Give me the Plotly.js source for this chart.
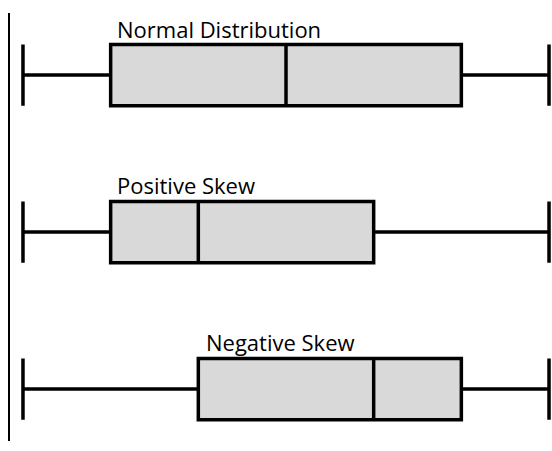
<!DOCTYPE html>
<html>
<head>
<meta charset="utf-8">
<script src="https://cdn.plot.ly/plotly-3.0.1.min.js"></script>
<style>
  body { margin: 0; background: #fff; }
  #plot { width: 552px; height: 451px; }
</style>
</head>
<body>
<div id="plot"></div>
<script>
// Box plot shapes, top to bottom
let names = ["Normal Distribution", "Positive Skew", "Negative Skew"];
let rows = [2, 1, 0];
let minVals = [0, 0, 0];
let q1Vals = [1, 1, 2];
let medianVals = [3, 2, 4];
let q3Vals = [5, 4, 5];
let maxVals = [6, 6, 6];
// where each label starts (x) and sits (y) in data units
let labelX = [1.05, 1.05, 2.06];
let labelY = [2.29, 1.30, 0.30];

let traces = names.map((name, i) => ({
    type: 'box',
    orientation: 'h',
    name: name,
    y: [rows[i]],
    lowerfence: [minVals[i]],
    q1: [q1Vals[i]],
    median: [medianVals[i]],
    q3: [q3Vals[i]],
    upperfence: [maxVals[i]],
    width: 0.39,
    whiskerwidth: 1,
    boxpoints: false,
    fillcolor: '#d9d9d9',
    line: { color: '#000000', width: 3.5 },
    hoverinfo: 'skip'
}));

let annotations = names.map((name, i) => ({
    text: name,
    x: labelX[i],
    y: labelY[i],
    xref: 'x',
    yref: 'y',
    xanchor: 'left',
    yanchor: 'middle',
    showarrow: false,
    font: { family: '"Open Sans", sans-serif', size: 22, color: '#000000' }
}));

let layout = {
    width: 552,
    height: 451,
    margin: { l: 10, r: 0, t: 13, b: 10 },
    paper_bgcolor: '#ffffff',
    plot_bgcolor: '#ffffff',
    showlegend: false,
    xaxis: {
        range: [-0.148, 6.034],
        visible: false,
        fixedrange: true
    },
    yaxis: {
        range: [-0.331, 2.395],
        showline: true,
        linecolor: '#000000',
        linewidth: 2,
        showgrid: false,
        zeroline: false,
        showticklabels: false,
        ticks: '',
        fixedrange: true
    },
    annotations: annotations
};

Plotly.newPlot("plot", traces, layout, { displayModeBar: false, staticPlot: true });
</script>
</body>
</html>
